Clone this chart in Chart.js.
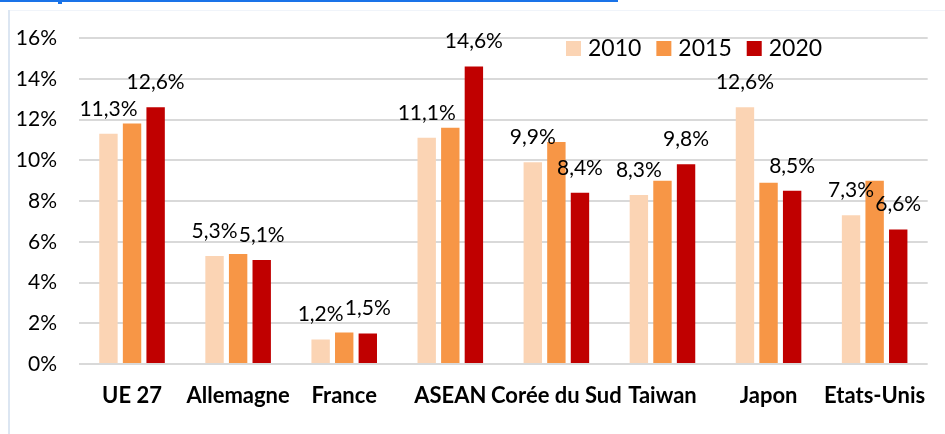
<!DOCTYPE html>
<html>
<head>
<meta charset="utf-8">
<script src="https://cdn.jsdelivr.net/npm/chart.js@4.4.0/dist/chart.umd.min.js"></script>
<style>
html,body{margin:0;padding:0;background:#fff;}
#wrap{position:relative;width:945px;height:434px;}
</style>
</head>
<body>
<div id="wrap"><canvas id="c" width="945" height="434"></canvas></div>
<script>
const categories = ["UE 27","Allemagne","France","ASEAN","Corée du Sud","Taiwan","Japon","Etats-Unis"];
const years = ["2010","2015","2020"];
const values2010 = [11.3, 5.3, 1.2, 11.1, 9.9, 8.3, 12.6, 7.3];
const values2015 = [11.8, 5.4, 1.55, 11.6, 10.9, 9.0, 8.9, 9.0];
const values2020 = [12.6, 5.1, 1.5, 14.6, 8.4, 9.8, 8.5, 6.6];
const colors = ["#FBD4B4", "#F79646", "#C00000"];
const labelledSeries = [true, false, true];
const yTicks = [0, 2, 4, 6, 8, 10, 12, 14, 16];

const FONT = "Lato, 'Open Sans', sans-serif";

const decor = {
  id: 'decor',
  beforeDraw(chart) {
    const ctx = chart.ctx;
    ctx.save();
    ctx.fillStyle = '#fff';
    ctx.fillRect(0, 0, chart.width, chart.height);
    ctx.strokeStyle = '#f0f4fa';
    ctx.lineWidth = 1;
    ctx.beginPath(); ctx.moveTo(8.5, 10.5); ctx.lineTo(945, 10.5); ctx.stroke();
    ctx.strokeStyle = '#dce6f2';
    ctx.lineWidth = 2;
    ctx.beginPath(); ctx.moveTo(9, 10); ctx.lineTo(9, 434); ctx.stroke();
    ctx.fillStyle = '#1a73e8';
    ctx.fillRect(0, 0, 618, 2);
    ctx.fillRect(58, 0, 4, 4);
    ctx.restore();
  }
};

const labels = {
  id: 'valueLabels',
  afterDatasetsDraw(chart) {
    const ctx = chart.ctx;
    ctx.save();
    ctx.font = "21px " + FONT;
    ctx.fillStyle = '#000';
    ctx.textAlign = 'center';
    ctx.textBaseline = 'middle';
    chart.data.datasets.forEach((ds, i) => {
      if (!labelledSeries[i]) return;
      const meta = chart.getDatasetMeta(i);
      meta.data.forEach((bar, j) => {
        const txt = ds.data[j].toFixed(1).replace('.', ',') + '%';
        ctx.fillText(txt, bar.x, bar.y - 25);
      });
    });
    ctx.restore();
  }
};

const legendPlugin = {
  id: 'customLegend',
  afterDraw(chart) {
    const ctx = chart.ctx;
    ctx.save();
    ctx.font = "23px " + FONT;
    ctx.textBaseline = 'middle';
    ctx.textAlign = 'left';
    let x = 566;
    const y = 49;
    chart.data.datasets.forEach((ds) => {
      ctx.fillStyle = ds.backgroundColor;
      ctx.fillRect(x, y - 8, 15, 15);
      ctx.fillStyle = '#000';
      ctx.fillText(ds.label, x + 22, y);
      x += 22 + ctx.measureText(ds.label).width + 15;
    });
    ctx.restore();
  }
};

const seriesValues = [values2010, values2015, values2020];

new Chart(document.getElementById('c'), {
  type: 'bar',
  data: {
    labels: categories,
    datasets: years.map((y, i) => ({
      label: y,
      data: seriesValues[i],
      backgroundColor: colors[i],
      borderWidth: 0,
      barPercentage: 0.78,
      categoryPercentage: 0.667
    }))
  },
  options: {
    responsive: false,
    animation: false,
    devicePixelRatio: 1,
    layout: { padding: { top: 38, right: 13, left: 0, bottom: 0 } },
    plugins: { legend: { display: false }, tooltip: { enabled: false } },
    scales: {
      x: {
        grid: { display: false, drawTicks: false },
        border: { display: false },
        ticks: { color: '#000', font: { family: FONT, size: 22, weight: 'bold' }, padding: 19, maxRotation: 0, autoSkip: false },
        afterFit(s) { s.height = 70; }
      },
      y: {
        min: 0, max: 16,
        afterBuildTicks(s) { s.ticks = yTicks.map(v => ({ value: v })); },
        grid: { color: '#d9d9d9', lineWidth: 2, drawTicks: false },
        border: { display: false },
        ticks: { color: '#000', font: { family: FONT, size: 21 }, padding: 22, callback: v => v + '%' },
        afterFit(s) { s.width = 79; }
      }
    }
  },
  plugins: [decor, labels, legendPlugin]
});
</script>
</body>
</html>
